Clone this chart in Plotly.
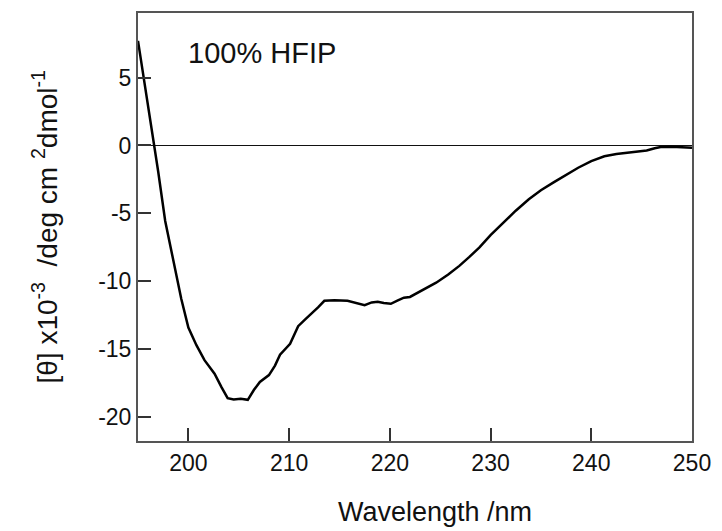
import plotly.graph_objects as go

# CD spectrum, 100% HFIP
wavelength = [195.0, 195.5, 196.0, 196.6, 197.0, 197.7, 198.1, 198.7, 199.3, 200.0,
              200.8, 201.6, 202.6, 203.3, 203.9, 204.5, 205.2, 205.9, 206.5, 207.1,
              208.0, 208.6, 209.1, 210.1, 210.9, 211.6, 212.2, 212.9, 213.5, 214.5,
              215.8, 216.7, 217.5, 218.2, 218.8, 219.4, 220.1, 220.8, 221.4, 222.0,
              222.5, 223.5, 224.6, 225.8, 226.9, 227.9, 228.9, 230.0, 231.2, 232.5,
              233.8, 235.0, 236.3, 237.5, 238.7, 240.0, 241.3, 242.5, 243.6, 244.6,
              245.5, 246.3, 246.9, 248.0, 249.0, 250.0]
ellipticity = [7.7, 5.35, 2.95, 0.1, -1.9, -5.56, -7.0, -9.25, -11.3, -13.4,
               -14.7, -15.8, -16.8, -17.8, -18.6, -18.7, -18.65, -18.72, -18.0, -17.4,
               -16.9, -16.2, -15.4, -14.6, -13.3, -12.8, -12.4, -11.9, -11.43, -11.4,
               -11.43, -11.6, -11.75, -11.55, -11.5, -11.6, -11.65, -11.4, -11.2, -11.15,
               -10.95, -10.6, -10.1, -9.5, -8.86, -8.2, -7.5, -6.6, -5.7, -4.8,
               -3.96, -3.3, -2.7, -2.15, -1.64, -1.15, -0.79, -0.62, -0.52, -0.45,
               -0.37, -0.2, -0.12, -0.1, -0.14, -0.17]

x_ticks = [200, 210, 220, 230, 240, 250]
x_ticktext = ["200", "210", "220", "230", "240", "250"]
y_ticks = [-20, -15, -10, -5, 0, 5]
y_ticktext = ["-20", "-15", "-10", "-5", "0", "5"]
label_text = "100% HFIP"
x_title = "Wavelength /nm"
y_title = ("[θ] x10<sup>-3</sup>\u00a0\u00a0/deg cm\u00a0<sup>2</sup>dmol<sup>-1</sup>")

FONT = "Liberation Sans, Arial, Helvetica, sans-serif"

fig = go.Figure()
fig.add_trace(go.Scatter(x=wavelength, y=ellipticity, mode="lines",
                         line=dict(color="black", width=2.5), showlegend=False))

axis_common = dict(showgrid=False, showline=True, mirror=True, linecolor="#555555",
                   linewidth=2, ticks="inside", ticklen=13, tickwidth=2,
                   tickcolor="#333333",
                   tickfont=dict(family=FONT, size=23, color="#111111"))

fig.update_xaxes(range=[195, 250], tickvals=x_ticks, ticktext=x_ticktext,
                 zeroline=False, **axis_common)
fig.update_yaxes(range=[-21.75, 9.75], tickvals=y_ticks, ticktext=y_ticktext,
                 zeroline=True, zerolinecolor="#111111", zerolinewidth=1.2,
                 **axis_common)

fig.add_annotation(text=label_text, xref="paper", yref="paper", x=0.0875, y=0.906,
                   xanchor="left", yanchor="middle", showarrow=False,
                   font=dict(family=FONT, size=29, color="#111111"))
fig.add_annotation(text=x_title, xref="paper", yref="paper", x=0.537, y=-0.166,
                   xanchor="center", yanchor="middle", showarrow=False,
                   font=dict(family=FONT, size=27, color="#111111"))
fig.add_annotation(text=y_title, xref="paper", yref="paper", x=-0.167, y=0.5,
                   xanchor="center", yanchor="middle", showarrow=False, textangle=-90,
                   font=dict(family=FONT, size=28, color="#111111"))

fig.update_layout(width=722, height=531, margin=dict(l=138, r=24, t=11, b=90),
                  paper_bgcolor="white", plot_bgcolor="white",
                  font=dict(family=FONT))

fig.write_html("out.html")
